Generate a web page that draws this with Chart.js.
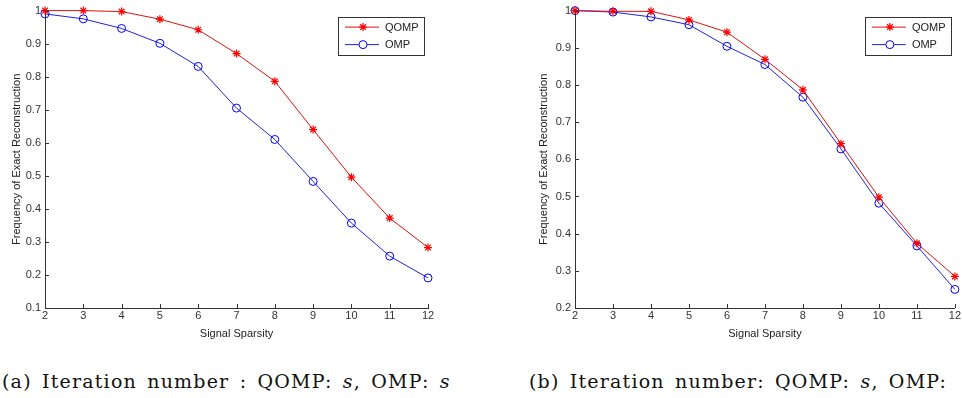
<!DOCTYPE html>
<html lang="en">
<head>
    <meta charset="UTF-8">
    <title>QOMP vs OMP</title>
    <script src="https://cdn.jsdelivr.net/npm/chart.js@4.4.0/dist/chart.umd.min.js"></script>
    <style>
        body {
            margin: 0;
            background: #fff;
            width: 962px;
            height: 398px;
            overflow: hidden;
            position: relative;
        }
        .panel {
            position: absolute;
            top: 0;
            height: 345px;
        }
        .caption {
            position: absolute;
            top: 370px;
            font-family: "DejaVu Serif", "Liberation Serif", serif;
            font-size: 19px;
            line-height: 22px;
            letter-spacing: 1.2px;
            word-spacing: 3px;
            white-space: nowrap;
            color: #111;
        }
    </style>
</head>
<body>

    <div class="panel" style="left:0;width:480px"><canvas id="chartA"></canvas></div>
    <div class="panel" style="left:480px;width:482px"><canvas id="chartB"></canvas></div>

    <div class="caption" style="left:2px">(a) Iteration number : QOMP: <i>s</i>, OMP: <i>s</i></div>
    <div class="caption" style="left:529px">(b) Iteration number: QOMP: <i>s</i>, OMP:</div>

<script>

// signal sparsity
var sparsity = [2, 3, 4, 5, 6, 7, 8, 9, 10, 11, 12];

// (a) both with s iterations
var qompA = [1.0, 1.0, 0.997, 0.974, 0.942, 0.870, 0.786, 0.640, 0.496, 0.372, 0.283];
var ompA  = [0.990, 0.975, 0.946, 0.901, 0.831, 0.705, 0.610, 0.483, 0.357, 0.257, 0.191];

// (b)
var qompB = [1.0, 0.998, 0.998, 0.975, 0.942, 0.869, 0.787, 0.642, 0.498, 0.374, 0.285];
var ompB  = [1.0, 0.996, 0.983, 0.962, 0.904, 0.855, 0.767, 0.628, 0.482, 0.367, 0.250];

var tickColor = '#333';
var tickFont = { family: 'Liberation Sans, Arial, sans-serif', size: 11 };

function pts(ys) {
    return sparsity.map((x, i) => ({ x: x, y: ys[i] }));
}

// inward ticks like matlab
var innerTicks = {
    id: 'innerTicks',
    afterDraw(chart) {
        var ctx = chart.ctx, a = chart.chartArea;
        var xs = chart.scales.x, ys = chart.scales.y;
        ctx.save();
        ctx.strokeStyle = tickColor;
        ctx.lineWidth = 1;
        ctx.beginPath();
        xs.ticks.forEach(t => {
            var px = Math.round(xs.getPixelForValue(t.value)) + 0.5;
            ctx.moveTo(px, a.bottom);
            ctx.lineTo(px, a.bottom - 4);
        });
        ys.ticks.forEach(t => {
            var py = Math.round(ys.getPixelForValue(t.value)) + 0.5;
            ctx.moveTo(a.left, py);
            ctx.lineTo(a.left + 4, py);
        });
        ctx.stroke();
        ctx.restore();
    }
};

// legend box in the top right corner
var boxLegend = {
    id: 'boxLegend',
    afterDraw(chart) {
        var ctx = chart.ctx, a = chart.chartArea;
        var w = 86, h = 38;
        var left = a.right - 4 - w, top = a.top + 6;
        ctx.save();
        ctx.fillStyle = '#fff';
        ctx.fillRect(left, top, w, h);
        ctx.strokeStyle = '#333';
        ctx.lineWidth = 1;
        ctx.strokeRect(Math.round(left) + 0.5, Math.round(top) + 0.5, w, h);
        chart.data.datasets.forEach((ds, i) => {
            var y = top + 10.5 + i * 17.5;
            ctx.strokeStyle = ds.borderColor;
            ctx.lineWidth = 1;
            ctx.beginPath();
            ctx.moveTo(left + 7, y);
            ctx.lineTo(left + 41, y);
            ctx.stroke();
            ctx.strokeStyle = ds.pointBorderColor;
            ctx.fillStyle = '#fff';
            ctx.lineWidth = ds.pointBorderWidth;
            Chart.helpers.drawPoint(ctx, {
                pointStyle: ds.pointStyle, radius: ds.pointRadius,
                borderWidth: ds.pointBorderWidth, rotation: 0
            }, left + 25, y);
            ctx.fillStyle = '#222';
            ctx.font = '11px Liberation Sans, Arial, sans-serif';
            ctx.textBaseline = 'middle';
            ctx.fillText(ds.label, left + 47, y + 0.5);
        });
        ctx.restore();
    }
};

function makeChart(id, qomp, omp, yMin, padLeft, padRight, titlePad) {
    return new Chart(document.getElementById(id), {
        type: 'line',
        data: {
            datasets: [{
                label: 'QOMP',
                data: pts(qomp),
                borderColor: '#e01010',
                borderWidth: 1,
                pointStyle: 'star',
                pointRadius: 4,
                pointBorderColor: '#ff0000',
                pointBorderWidth: 1.2,
                pointBackgroundColor: 'transparent',
                tension: 0,
                clip: false
            }, {
                label: 'OMP',
                data: pts(omp),
                borderColor: '#2020e0',
                borderWidth: 1,
                pointStyle: 'circle',
                pointRadius: 4,
                pointBorderColor: '#0000ff',
                pointBorderWidth: 1,
                pointBackgroundColor: 'transparent',
                tension: 0,
                clip: false
            }]
        },
        options: {
            responsive: true,
            maintainAspectRatio: false,
            animation: false,
            layout: { padding: { left: padLeft, right: padRight, top: 7, bottom: 0 } },
            plugins: { legend: { display: false }, tooltip: { enabled: false } },
            scales: {
                x: {
                    type: 'linear', min: 2, max: 12,
                    ticks: { stepSize: 1, color: tickColor, font: tickFont, padding: 1, maxRotation: 0 },
                    grid: { display: false, drawTicks: false },
                    border: { display: true, color: tickColor, width: 1 },
                    title: { display: true, text: 'Signal Sparsity', color: '#222', font: tickFont, padding: { top: 0, bottom: 4 } },
                    afterFit(s) { s.height = 37; }
                },
                y: {
                    min: yMin, max: 1,
                    ticks: {
                        stepSize: 0.1, color: tickColor, font: tickFont, padding: 4,
                        callback: v => String(+v.toFixed(1))
                    },
                    grid: { display: false, drawTicks: false },
                    border: { display: true, color: tickColor, width: 1 },
                    title: { display: true, text: 'Frequency of Exact Reconstruction', color: '#222', font: tickFont, padding: { top: titlePad, bottom: 0 } },
                    afterFit(s) { s.width = 45; }
                }
            }
        },
        plugins: [innerTicks, boxLegend]
    });
}

makeChart('chartA', qompA, ompA, 0.1, 0, 52, 10);
makeChart('chartB', qompB, ompB, 0.2, 50, 5, 7);

</script>

</body>
</html>
